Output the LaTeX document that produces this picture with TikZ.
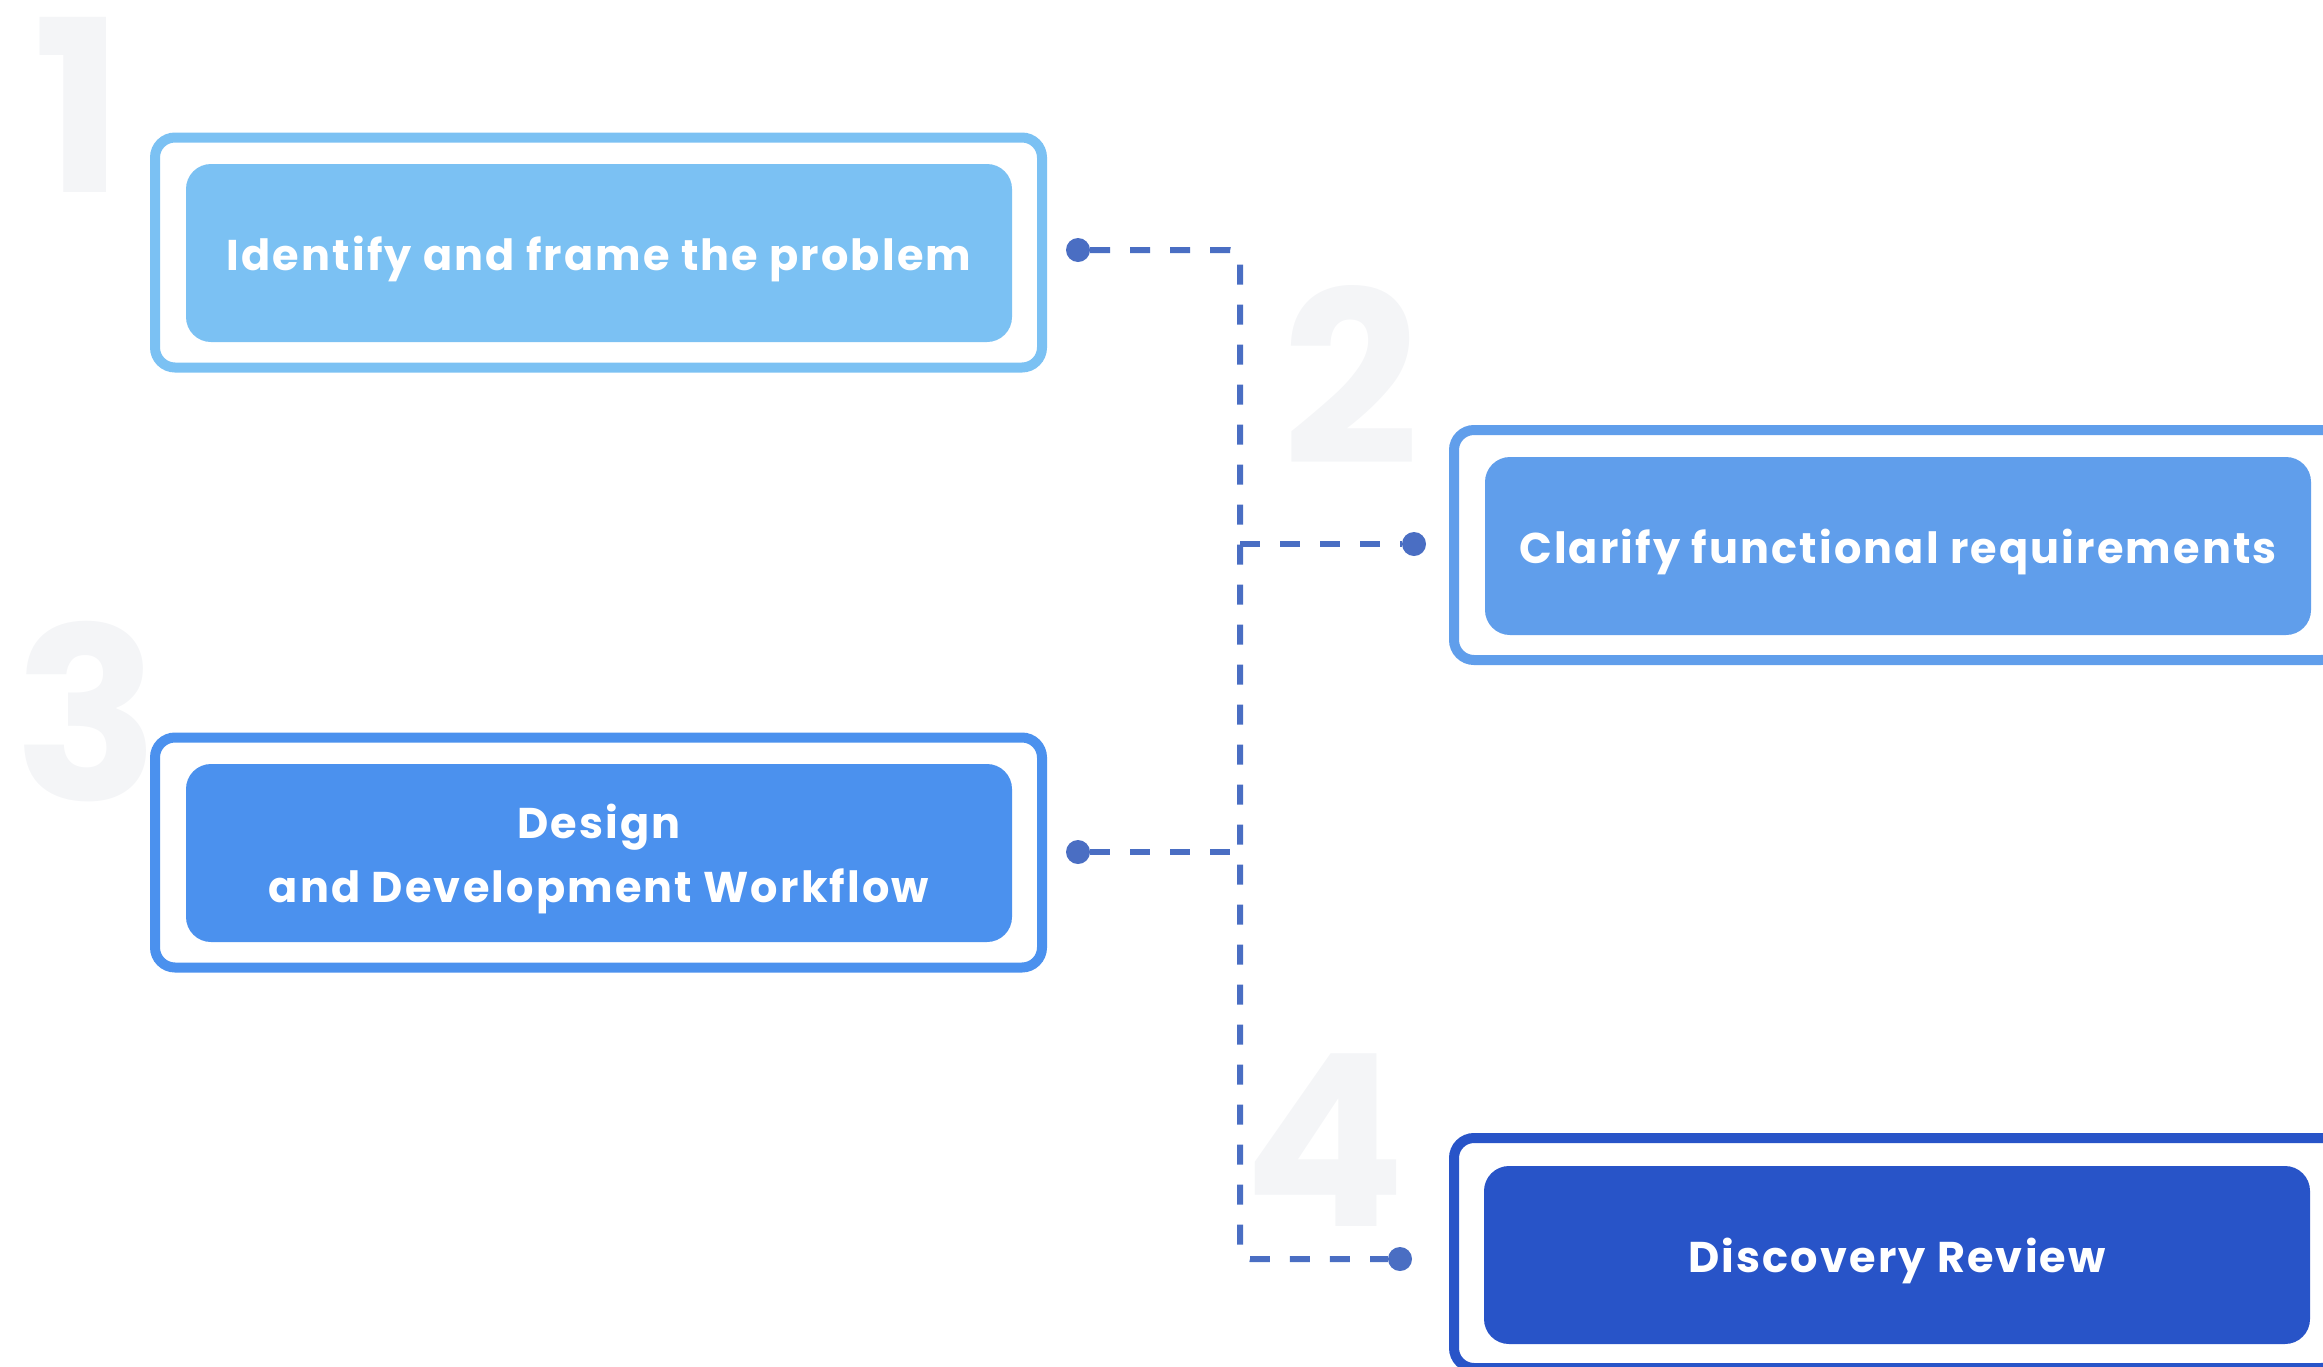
\documentclass[tikz,border=0pt]{standalone}
\usepackage{fontspec}
\setmainfont{Poppins}
\newfontfamily\boxfont[LetterSpace=5]{Poppins}

\definecolor{stepone}{HTML}{7BC1F3}
\definecolor{steptwo}{HTML}{609EEB}
\definecolor{stepthree}{HTML}{4B91EE}
\definecolor{stepfour}{HTML}{2854C8}
\definecolor{linkblue}{HTML}{4A6EC3}
\definecolor{numgray}{HTML}{F4F5F7}

\tikzset{
  outerbox/.style={draw=#1, line width=10pt, rounded corners=20pt, fill=white,
    minimum width=887pt, minimum height=230pt, inner sep=0pt},
  innerbox/.style={fill=#1, rounded corners=25pt, minimum width=826pt,
    minimum height=178pt, inner sep=0pt, text=white, align=center,
    text depth=0pt, font=\boxfont\bfseries\fontsize{43}{64}\selectfont},
  bignum/.style={text=numgray, inner sep=0pt, anchor=base,
    font=\bfseries\fontsize{240}{240}\selectfont},
  linkdot/.style={circle, fill=linkblue, minimum size=24pt, inner sep=0pt},
  link/.style={draw=linkblue, line width=6pt, dash pattern=on 20pt off 20pt,
    rounded corners=10pt}
}

\begin{document}
\begin{tikzpicture}[x=1pt,y=-1pt]
    \useasboundingbox (0,0) rectangle (2323,1366);
    \clip (0,0) rectangle (2323,1366);

    % step numbers behind the boxes
    \node[bignum] (n1) at (79,192) {1};
    \node[bignum] (n2) at (1351,464) {2};
    \node[bignum] (n3) at (87,800) {3};
    \node[bignum] (n4) at (1325,1226) {4};

    % steps
    \node[outerbox=stepone] (b1) at (598.5,252.5) {};
    \node[innerbox=stepone] (s1) at (599,253) {Identify and frame the problem};
    \node[outerbox=steptwo] (b2) at (1897.5,545) {};
    \node[innerbox=steptwo] (s2) at (1898,546) {Clarify functional requirements};
    \node[outerbox=stepthree] (b3) at (598.5,852.5) {};
    \node[innerbox=stepthree] (s3) at (599,853) {Design\\and Development Workflow};
    \node[outerbox=stepfour] (b4) at (1897.5,1253) {};
    \node[innerbox=stepfour] (s4) at (1897,1255) {Discovery Review};

    % dots and the dashed line between them
    \node[linkdot] (d1) at (1078,250) {};
    \node[linkdot] (d2) at (1414,544) {};
    \node[linkdot] (d3) at (1078,852) {};
    \node[linkdot] (d4) at (1400,1259) {};
    \coordinate (top) at (1240,250);
    \coordinate (bottom) at (1240,1259);
    \coordinate (mid2) at (1240,544);
    \coordinate (mid3) at (1240,852);

    \draw[link] (d1) -- (top) -- (bottom) -- (d4);
    \draw[link] (mid2) -- (d2);
    \draw[link] (d3) -- (mid3);
\end{tikzpicture}
\end{document}
